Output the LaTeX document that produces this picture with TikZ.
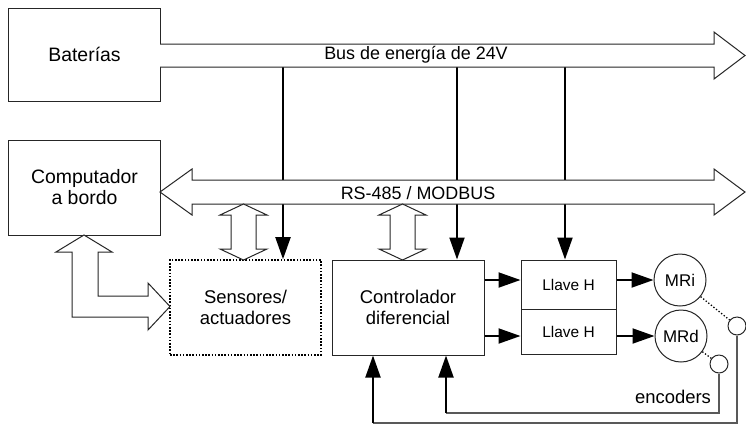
\documentclass[tikz,border=0pt]{standalone}
\usepackage{fontspec}
\setmainfont{Liberation Sans}
\usetikzlibrary{arrows.meta}
\begin{document}
\begin{tikzpicture}[x=1bp,y=-1bp,
  box/.style={draw=black!85, line width=1bp, inner sep=0pt, align=center, font=\fontsize{18.5}{21}\selectfont},
  hol/.style={draw=black!85, line width=1bp, fill=white, line join=miter},
  arr/.style={line width=2bp, -{Triangle[length=22bp,width=15bp]}},
  mr/.style={circle, draw=black!85, line width=1bp, minimum size=52bp, inner sep=0pt, font=\fontsize{17}{20}\selectfont},
  enc/.style={circle, draw=black!85, line width=1bp, minimum size=18bp, inner sep=0pt},
  fb/.style={line width=1.2bp, draw=black!65},
  lbl/.style={font=\fontsize{18}{20}\selectfont, inner sep=0pt}
]
\useasboundingbox (0,0) rectangle (746,425);
\fill[white] (0,0) rectangle (746,425);

% boxes
\node[box, minimum width=151bp, minimum height=93bp, font=\fontsize{19.5}{22}\selectfont] (bat) at (84.5,54.5) {Baterías};
\node[box, minimum width=151bp, minimum height=95bp, font=\fontsize{19.5}{21}\selectfont] (comp) at (84.5,187.5) {Computador\\a bordo};
\node[box, draw=black, line width=1.6bp, dash pattern=on 1.6bp off 1.6bp, minimum width=151bp, minimum height=95bp] (sens) at (245.5,307.5) {Sensores/\\actuadores};
\node[box, minimum width=152bp, minimum height=95bp] (ctrl) at (408,307.5) {Controlador\\diferencial};
\node[box, minimum width=95bp, minimum height=49bp, font=\fontsize{15.5}{18}\selectfont] (ll1) at (568.5,284.5) {Llave H};
\node[box, minimum width=95bp, minimum height=45bp, font=\fontsize{15.5}{18}\selectfont] (ll2) at (568.5,331.5) {Llave H};
\node[mr] (mri) at (680,280) {MRi};
\node[mr] (mrd) at (681,336) {MRd};
\node[enc] (e1) at (737,326) {};
\node[enc] (e2) at (719,364) {};

% power drops
\coordinate (d1) at (283,67);
\coordinate (d2) at (457,67);
\coordinate (d3) at (565,67);
\draw[arr] (d1) -- (d1 |- sens.north);
\draw[arr] (d2) -- (d2 |- ctrl.north);
\draw[arr] (d3) -- (d3 |- ll1.north);

% power bus
\draw[hol] (160,44) -- (714,44) -- (714,32) -- (745,55.5) -- (714,79) -- (714,67) -- (160,67);
\node[lbl] (lb1) at (416,55) {Bus de energía de 24V};

% RS-485 bus
\draw[hol] (160,192) -- (192,169) -- (192,180) -- (714,180) -- (714,169) -- (745,192) -- (714,215) -- (714,204) -- (192,204) -- (192,215) -- cycle;
\node[lbl] (lb2) at (418,193) {RS-485 / MODBUS};

% vertical hollow double arrows
\foreach \cx in {243.5,402.5}{
  \draw[hol] (\cx,204) -- (\cx+23.5,215) -- (\cx+12.5,215) -- (\cx+12.5,249) -- (\cx+23.5,249) -- (\cx,260)
    -- (\cx-23.5,249) -- (\cx-12.5,249) -- (\cx-12.5,215) -- (\cx-23.5,215) -- cycle;
}

% L-shaped hollow double arrow
\draw[hol] (84,235) -- (112,252) -- (98,252) -- (98,296) -- (148,296) -- (148,283) -- (170,306.5)
  -- (148,330) -- (148,317) -- (72,317) -- (72,252) -- (56,252) -- cycle;

% controller to H bridges, to motors
\draw[arr] (ctrl.east |- mri) -- (ll1.west |- mri);
\draw[arr] (ctrl.east |- mrd) -- (ll2.west |- mrd);
\draw[arr] (ll1.east |- mri) -- (mri);
\draw[arr] (ll2.east |- mrd) -- (mrd);

% encoders
\draw[line width=1.3bp, dotted] (mri) -- (e1);
\draw[line width=1.3bp, dotted] (mrd) -- (e2);
\coordinate (f1) at (373,423);
\coordinate (f2) at (446,413);
\draw[fb] (e1.south) |- (f1);
\draw[arr] (f1) -- (f1 |- ctrl.south);
\draw[fb] (e2.south) |- (f2);
\draw[arr] (f2) -- (f2 |- ctrl.south);
\node[lbl, font=\fontsize{18.5}{20}\selectfont] (encl) at (673,397) {encoders};
\end{tikzpicture}
\end{document}
